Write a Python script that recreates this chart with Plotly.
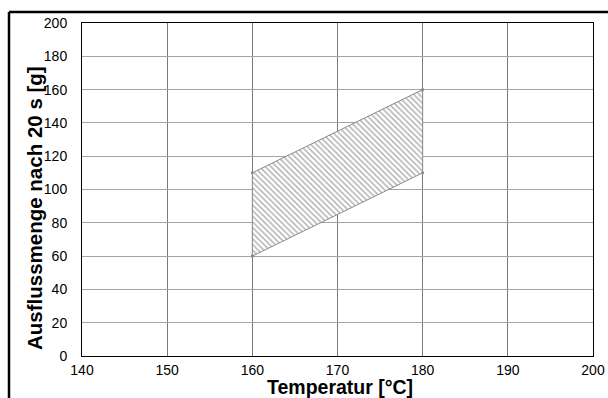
import plotly.graph_objects as go

# Data
temperature = [160, 160, 180, 180, 160]
outflow = [60, 110, 160, 110, 60]
x_ticks = [140, 150, 160, 170, 180, 190, 200]
y_ticks = [0, 20, 40, 60, 80, 100, 120, 140, 160, 180, 200]
x_title = "<b>Temperatur [°C]</b>"
y_title = "<b>Ausflussmenge nach 20 s [g]</b>"

W, H = 608, 398
L, R, T, B = 82, 15, 23, 42
pw, ph = W - L - R, H - T - B

def px_x(p):
    return (p - L) / pw

def px_y(p):
    return (H - B - p) / ph

FONT = "Arial, Liberation Sans, sans-serif"

fig = go.Figure()
fig.add_trace(go.Scatter(
    x=temperature, y=outflow, mode="lines+markers",
    fill="toself", fillcolor="rgba(0,0,0,0)",
    fillpattern=dict(shape="\\", fgcolor="#5a5a5a", bgcolor="white", size=4, solidity=0.35),
    line=dict(color="#8a8a8a", width=1),
    marker=dict(size=3, color="#8a8a8a"),
    showlegend=False, hoverinfo="skip"))

axis_common = dict(showline=True, linecolor="black", linewidth=1, mirror=True,
                   gridwidth=1, zeroline=False,
                   ticks="outside", tickcolor="rgba(0,0,0,0)", automargin=False,
                   tickfont=dict(family=FONT, size=14, color="black"))

fig.update_xaxes(range=[140, 200], tickvals=x_ticks, ticklen=1, gridcolor="#7a7a7a", **axis_common)
fig.update_yaxes(range=[0, 200], tickvals=y_ticks, ticklen=11, gridcolor="#a5a5a5", **axis_common)

fig.add_annotation(text=x_title, xref="paper", yref="paper",
                   x=px_x(340), y=px_y(386.5), xanchor="center", yanchor="middle",
                   showarrow=False, font=dict(family=FONT, size=19.5, color="black"))
fig.add_annotation(text=y_title, xref="paper", yref="paper", textangle=-90,
                   x=px_x(34), y=px_y(208), xanchor="center", yanchor="middle",
                   showarrow=False, font=dict(family=FONT, size=20.5, color="black"))

# outer frame (top and left edges visible inside the picture)
fig.add_shape(type="line", xref="paper", yref="paper",
              x0=px_x(9), x1=px_x(608), y0=px_y(12), y1=px_y(12),
              line=dict(color="black", width=2.5), layer="above")
fig.add_shape(type="line", xref="paper", yref="paper",
              x0=px_x(9), x1=px_x(9), y0=px_y(12), y1=px_y(398),
              line=dict(color="black", width=2.5), layer="above")

fig.update_layout(width=W, height=H, margin=dict(l=L, r=R, t=T, b=B, autoexpand=False),
                  plot_bgcolor="white", paper_bgcolor="white",
                  font=dict(family=FONT, color="black"))

fig.write_html("out.html",
               post_script=("document.body.style.margin='0';"
                            "document.body.style.overflow='hidden';"
                            "document.documentElement.style.overflow='hidden';"))
